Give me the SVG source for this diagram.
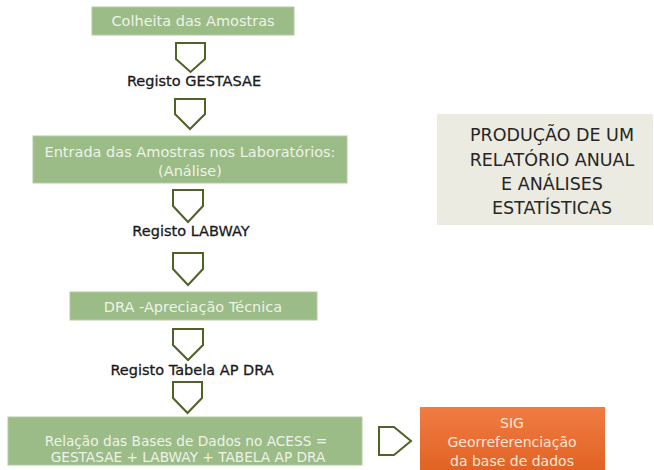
<svg xmlns="http://www.w3.org/2000/svg" width="654" height="470" viewBox="0 0 654 470">
<defs>
<linearGradient id="og" x1="0" y1="0" x2="0" y2="1">
<stop offset="0" stop-color="#f07c43"/>
<stop offset="1" stop-color="#df6020"/>
</linearGradient>
<style>
.g{fill:#9bbb87;stroke:#b4cca2;stroke-width:1}
.gt{font-family:"DejaVu Sans","Liberation Sans",sans-serif;font-size:14.5px;fill:#eef3e8;text-anchor:middle}
.gs{font-family:"DejaVu Sans","Liberation Sans",sans-serif;font-size:13.7px;fill:#eef3e8;text-anchor:middle}
.lt{font-family:"DejaVu Sans","Liberation Sans",sans-serif;font-size:14.5px;fill:#1a1a1a;text-anchor:middle;stroke:#1a1a1a;stroke-width:0.3}
.ch{fill:#ffffff;stroke:#4f6228;stroke-width:2;stroke-linejoin:miter}
.bt{font-family:"DejaVu Sans","Liberation Sans",sans-serif;font-size:17.5px;fill:#262626;text-anchor:middle}
.ot{font-family:"DejaVu Sans","Liberation Sans",sans-serif;font-size:14px;fill:#fbe6da;text-anchor:middle}
</style>
</defs>
<rect width="654" height="470" fill="#ffffff"/>
<g id="connectors">
<polygon class="ch" points="176,43 205,43 205,59 190.5,72 176,59"/>
<polygon class="ch" points="175,99 205,99 205,114 190,129 175,114"/>
<polygon class="ch" points="173,190 203,190 203,206 188,222 173,206"/>
<polygon class="ch" points="173,253 203,253 203,269 188,285 173,269"/>
<polygon class="ch" points="173,329 203,329 203,345 188,360 173,345"/>
<polygon class="ch" points="173,382 202,382 202,398 187.5,413 173,398"/>
<polygon class="ch" points="379,427 394,427 411,441 394,455 379,455"/>
</g>
<g id="n1">
<rect class="g" x="92" y="7" width="202" height="28"/>
<text class="gt" x="193" y="26">Colheita das Amostras</text>
</g>
<g id="l1"><text class="lt" x="194" y="86">Registo GESTASAE</text></g>
<g id="n2">
<rect class="g" x="33" y="136" width="314" height="47"/>
<text class="gt" x="190" y="157">Entrada das Amostras  nos Laboratórios:</text>
<text class="gt" x="190" y="176">(Análise)</text>
</g>
<g id="l2"><text class="lt" x="191" y="236">Registo LABWAY</text></g>
<g id="n3">
<rect class="g" x="70" y="292" width="247" height="28"/>
<text class="gt" x="193" y="312">DRA -Apreciação Técnica</text>
</g>
<g id="l3"><text class="lt" x="192" y="375">Registo Tabela AP DRA</text></g>
<g id="n4">
<rect class="g" x="8" y="417" width="354" height="48"/>
<text class="gs" x="186" y="446">Relação das Bases de Dados no ACESS =</text>
<text class="gs" x="188" y="462">GESTASAE + LABWAY + TABELA AP DRA</text>
</g>
<g id="n5">
<rect x="420" y="407" width="185" height="70" fill="url(#og)"/>
<text class="ot" x="512" y="428">SIG</text>
<text class="ot" x="512" y="447">Georreferenciação</text>
<text class="ot" x="512" y="466">da base de dados</text>
</g>
<g id="n6">
<rect x="437" y="114" width="216" height="111" fill="#ecebe1"/>
<text class="bt" x="552" y="141">PRODUÇÃO DE UM</text>
<text class="bt" x="552" y="166">RELATÓRIO ANUAL</text>
<text class="bt" x="552" y="190">E ANÁLISES</text>
<text class="bt" x="552" y="214">ESTATÍSTICAS</text>
</g>
</svg>
